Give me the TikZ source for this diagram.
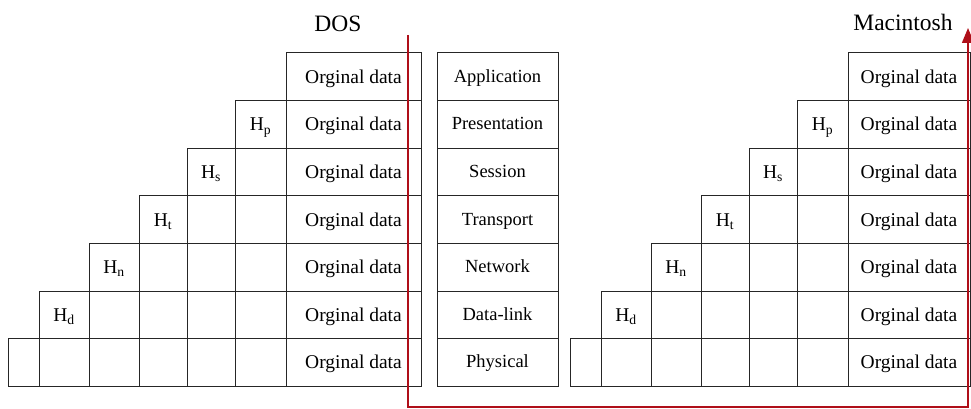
\documentclass[tikz,border=0pt]{standalone}
\usepackage{fontspec}
\setmainfont{Liberation Serif}
\usetikzlibrary{arrows.meta}

\definecolor{flowred}{RGB}{175,15,25}

\tikzset{
  cell/.style={draw=black!85,line width=1pt},
  datatxt/.style={font=\fontsize{19.5}{21}\selectfont,text height=13.5pt,text depth=0.5pt,inner sep=0pt},
  layertxt/.style={font=\fontsize{18.5}{20}\selectfont,text height=12.5pt,text depth=1.5pt,inner sep=0pt},
  stacktitle/.style={font=\fontsize{23.5}{25}\selectfont},
  flow/.style={draw=flowred,line width=1.6pt,-{Triangle[length=15pt,width=12pt]}},
}

\begin{document}
\begin{tikzpicture}[x=1pt,y=-1pt]
  \useasboundingbox (0,0) rectangle (971,409);

  % sender (DOS) and receiver (Macintosh) stacks
  \foreach \sx/\dw/\nm in {0/135/dos,562/122/mac} {
    \begin{scope}[xshift=\sx pt]
      \foreach \i in {0,...,6} {
        \draw[cell] (286,{53+47.6*\i}) rectangle ++(\dw,47.6);
        \node[datatxt] (\nm data\i) at ({286+\dw/2},{53+47.6*(\i+0.5)}) {Orginal data};
      }
      \foreach \cx/\cw/\rw in {235/51/1,187/48/2,139/48/3,89/50/4,39/50/5,8/31/6}
        \foreach \i in {\rw,...,6}
          \draw[cell] (\cx,{53+47.6*\i}) rectangle ++(\cw,47.6);
      \foreach \cx/\rw/\s in {260.5/1/p,211/2/s,163/3/t,114/4/n,64/5/d}
        \node[datatxt] (\nm H\s) at (\cx,{53+47.6*(\rw+0.5)}) {H\textsubscript{\s}};
    \end{scope}
  }
  \node[stacktitle] (dos) at (338,23.5) {DOS};
  \node[stacktitle] (mac) at (903,22.5) {Macintosh};

  % OSI layers
  \foreach \lay [count=\i from 0] in {Application,Presentation,Session,Transport,Network,Data-link,Physical} {
    \draw[cell] (437,{53+47.6*\i}) rectangle ++(121,47.6);
    \node[layertxt] (layer\i) at (497.5,{53+47.6*(\i+0.5)}) {\lay};
  }

  % path of the data
  \coordinate (sendtop) at (408,35);
  \coordinate (sendbot) at (408,407);
  \coordinate (recvbot) at (968,407);
  \coordinate (recvtop) at (968,28);
  \draw[flow] (sendtop) -- (sendbot) -- (recvbot) -- (recvtop);
\end{tikzpicture}
\end{document}
